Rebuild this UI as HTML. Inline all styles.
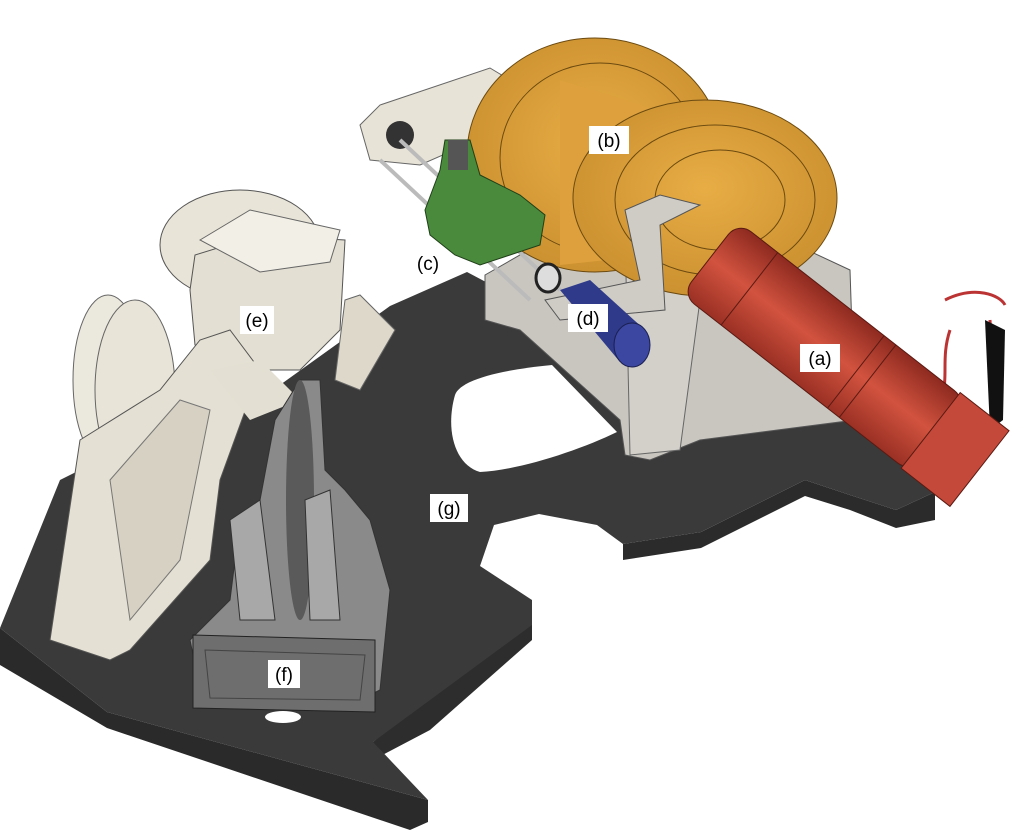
<!DOCTYPE html>
<html><head><meta charset="utf-8"><style>
html,body{margin:0;padding:0;background:#fff;}
svg{display:block}
.lbl{font-family:"Liberation Sans",sans-serif;font-size:19px;fill:#000}
</style></head><body>
<svg width="1018" height="832" viewBox="0 0 1018 832" xmlns="http://www.w3.org/2000/svg">
<defs>
<linearGradient id="red" x1="0" y1="0" x2="0" y2="1"><stop offset="0" stop-color="#8e2a20"/><stop offset="0.5" stop-color="#d2533f"/><stop offset="1" stop-color="#9a3024"/></linearGradient>
<radialGradient id="or" cx="0.5" cy="0.45" r="0.6"><stop offset="0" stop-color="#e8ad45"/><stop offset="1" stop-color="#c98e2e"/></radialGradient>
</defs>
<path d="M0,628 L0,665 L107,728 L410,830 L428,822 L428,800 L107,712 Z" fill="#2a2a2a"/>
<path d="M532,610 L532,640 L430,730 L373,760 L373,742 Z" fill="#2d2d2d"/>
<path d="M623,544 L623,560 L701,548 L805,496 L850,510 L896,528 L935,520 L935,492 L896,510 L850,495 L805,480 L701,532 Z" fill="#2b2b2b"/>
<path d="M0,628 L60,480 L120,450 L220,428 L390,306 L467,272 L520,300 L600,320 L690,340 L760,380 L860,420 L935,492 L896,510 L850,495 L805,480 L701,532 L623,544 L597,525 L539,514 L494,525 L480,566 L532,600 L532,625 L373,742 L428,800 L107,712 Z" fill="#3a3a3a"/>
<path d="M552,365 C500,370 460,380 455,395 C445,430 455,465 480,472 C520,470 580,450 617,432 Z" fill="#fff"/>
<path d="M485,275 L520,255 L640,200 L700,200 L850,270 L855,420 L700,440 L650,460 L625,455 L620,420 L520,330 L485,320 Z" fill="#c9c6c0" stroke="#555" stroke-width="1"/>
<path d="M625,230 L690,210 L700,300 L680,450 L630,455 Z" fill="#d3d0ca" stroke="#666"/>
<path d="M360,125 L380,105 L490,68 L510,80 L500,130 L420,165 L370,160 Z" fill="#e7e3d6" stroke="#666"/>
<circle cx="400" cy="135" r="14" fill="#333"/>
<line x1="400" y1="140" x2="560" y2="290" stroke="#bbb" stroke-width="4"/>
<line x1="380" y1="160" x2="530" y2="300" stroke="#bbb" stroke-width="4"/>
<ellipse cx="595" cy="155" rx="128" ry="117" fill="url(#or)" stroke="#6b4a10"/>
<ellipse cx="600" cy="158" rx="100" ry="95" fill="none" stroke="#6b4a10" stroke-width="1"/>
<path d="M560,80 L690,120 L700,250 L560,265 Z" fill="#dda03c"/>
<ellipse cx="705" cy="198" rx="132" ry="98" fill="url(#or)" stroke="#6b4a10"/>
<ellipse cx="715" cy="200" rx="100" ry="75" fill="none" stroke="#6b4a10"/>
<ellipse cx="720" cy="200" rx="65" ry="50" fill="none" stroke="#6b4a10"/>
<path d="M625,210 L660,195 L700,205 L660,225 L665,310 L560,320 L545,300 L640,280 Z" fill="#cfccc6" stroke="#555"/>
<path d="M425,210 L440,170 L445,140 L470,140 L480,175 L520,195 L545,215 L540,245 L480,265 L455,255 L430,235 Z" fill="#4a8a3c" stroke="#1f3f18"/>
<rect x="448" y="140" width="20" height="30" fill="#555"/>
<ellipse cx="548" cy="278" rx="12" ry="14" fill="#ddd" stroke="#222" stroke-width="3"/>
<path d="M560,290 L590,280 L645,330 L620,362 Z" fill="#2f3a8a"/>
<ellipse cx="632" cy="345" rx="18" ry="22" fill="#3b47a0" stroke="#1a1f50"/>
<path d="M945,300 C975,285 1000,295 1005,305 M950,330 C940,360 950,380 940,400 M990,320 L995,420 L980,440" stroke="#b33" stroke-width="3" fill="none"/>
<path d="M985,320 L1005,330 L1003,420 L990,430 Z" fill="#111"/>
<g transform="translate(710,258) rotate(38)">
<rect x="0" y="-46" width="290" height="92" rx="16" fill="url(#red)" stroke="#5a1a12"/>
<line x1="50" y1="-46" x2="50" y2="46" stroke="#5a1a12"/>
<line x1="185" y1="-46" x2="185" y2="46" stroke="#5a1a12"/>
<line x1="200" y1="-46" x2="200" y2="46" stroke="#5a1a12"/>
<rect x="280" y="-48" width="62" height="96" fill="#c4493a" stroke="#5a1a12"/>
</g>
<ellipse cx="240" cy="245" rx="80" ry="55" fill="#e8e4d8" stroke="#555"/>
<path d="M190,290 L195,255 L260,235 L345,240 L340,330 L300,370 L240,370 L195,345 Z" fill="#e3dfd2" stroke="#555"/>
<path d="M200,240 L250,210 L340,230 L330,262 L260,272 Z" fill="#f2efe6" stroke="#666"/>
<path d="M345,300 L360,295 L395,330 L360,390 L335,380 Z" fill="#ddd8ca" stroke="#666"/>
<ellipse cx="108" cy="380" rx="35" ry="85" fill="#ebe8dd" stroke="#666"/>
<ellipse cx="135" cy="390" rx="40" ry="90" fill="#e8e4d8" stroke="#666"/>
<path d="M80,440 L160,390 L200,340 L230,330 L260,370 L220,480 L210,560 L130,650 L110,660 L50,640 Z" fill="#e4e0d3" stroke="#555"/>
<path d="M110,480 L180,400 L210,410 L180,560 L130,620 Z" fill="#d6d1c2" stroke="#777"/>
<path d="M210,370 L260,360 L300,400 L250,420 Z" fill="#e3dfd2"/>
<path d="M260,500 L275,420 L300,380 L320,380 L325,470 L345,490 L370,520 L390,590 L380,690 L360,700 L200,690 L190,640 L230,600 L240,520 Z" fill="#8a8a8a" stroke="#333"/>
<ellipse cx="300" cy="500" rx="14" ry="120" fill="#5a5a5a"/>
<path d="M230,520 L260,500 L275,620 L240,620 Z" fill="#a8a8a8" stroke="#333"/>
<path d="M305,500 L330,490 L340,620 L310,620 Z" fill="#a8a8a8" stroke="#333"/>
<path d="M193,635 L375,640 L375,712 L193,708 Z" fill="#6e6e6e" stroke="#222"/>
<path d="M205,650 L365,655 L360,700 L210,698 Z" fill="none" stroke="#444"/>
<ellipse cx="283" cy="717" rx="18" ry="6" fill="#fff"/>
<rect x="589" y="126" width="40" height="28" fill="#fff"/><text class="lbl" x="609" y="147" text-anchor="middle">(b)</text>
<text class="lbl" x="428" y="270" text-anchor="middle">(c)</text>
<rect x="568" y="304" width="40" height="28" fill="#fff"/><text class="lbl" x="588" y="325" text-anchor="middle">(d)</text>
<rect x="240" y="306" width="34" height="28" fill="#fff"/><text class="lbl" x="257" y="327" text-anchor="middle">(e)</text>
<rect x="800" y="344" width="40" height="28" fill="#fff"/><text class="lbl" x="820" y="365" text-anchor="middle">(a)</text>
<rect x="430" y="494" width="38" height="28" fill="#fff"/><text class="lbl" x="449" y="515" text-anchor="middle">(g)</text>
<rect x="268" y="660" width="32" height="28" fill="#fff"/><text class="lbl" x="284" y="681" text-anchor="middle">(f)</text>
</svg>
</body></html>
